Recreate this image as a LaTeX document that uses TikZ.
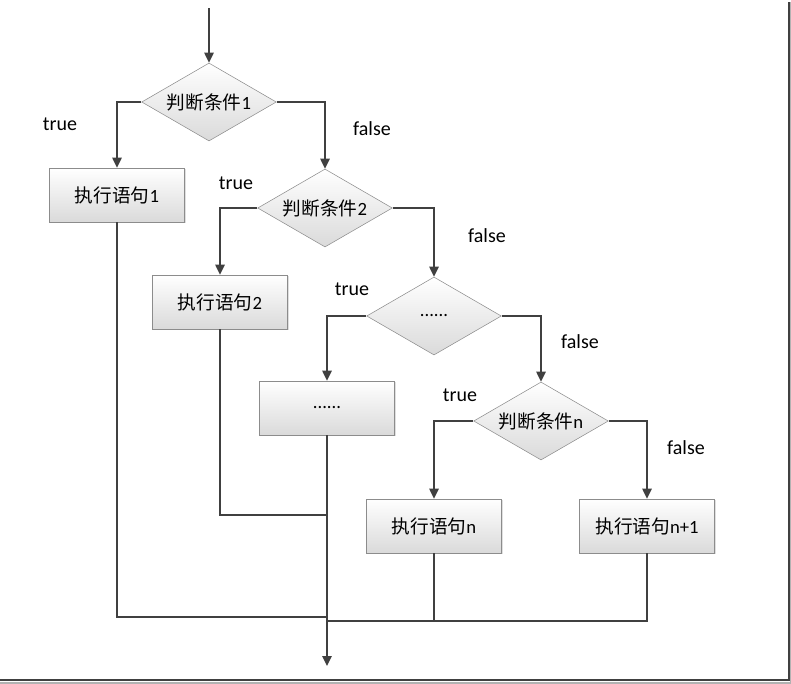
\documentclass[tikz,border=0pt]{standalone}
\usepackage{fontspec}
\setmainfont{Carlito}
\newfontfamily\cjk{Noto Sans CJK SC}
\usetikzlibrary{arrows.meta,shapes.geometric,shadows}
\definecolor{fcline}{HTML}{404040}
\definecolor{fcedge}{HTML}{8C8C8C}
\definecolor{fcfill}{HTML}{DADADA}

\begin{document}
\begin{tikzpicture}[x=0.75pt,y=-0.75pt,
  stmt/.style={draw=fcedge,thin,top color=white,bottom color=fcfill,
    minimum width=101pt,minimum height=40.5pt,inner sep=0pt,
    font=\fontsize{14}{16}\selectfont,
    drop shadow={opacity=0.25,shadow xshift=1pt,shadow yshift=-1pt}},
  cond/.style={diamond,aspect=1.7,draw=fcedge,thin,top color=white,bottom color=fcfill,
    minimum width=101pt,minimum height=58.5pt,inner sep=0pt,
    font=\fontsize{14}{16}\selectfont},
  lab/.style={font=\fontsize{15}{18}\selectfont},
  ln/.style={line width=1.1pt,fcline},
  arr/.style={ln,-{Triangle[length=7.5pt,width=7pt]}}]
  \useasboundingbox (0,0) rectangle (791,683);
  % decisions and statements
  \node[cond] (d1) at (209,102) {{\cjk 判断条件}1};
  \node[stmt] (b1) at (117,195) {{\cjk 执行语句}1};
  \node[cond] (d2) at (325,208) {{\cjk 判断条件}2};
  \node[stmt] (b2) at (220,302) {{\cjk 执行语句}2};
  \node[cond] (d3) at (434,316) {......};
  \node[stmt] (b3) at (327,408) {......};
  \node[cond] (d4) at (541,421) {{\cjk 判断条件}n};
  \node[stmt] (b4) at (434,526) {{\cjk 执行语句}n};
  \node[stmt] (b5) at (647,526) {{\cjk 执行语句}n+1};
  % branch labels
  \node[lab] (t1) at (60,124) {true};
  \node[lab] (f1) at (372,129) {false};
  \node[lab] (t2) at (236,183) {true};
  \node[lab] (f2) at (487,236) {false};
  \node[lab] (t3) at (352,289) {true};
  \node[lab] (f3) at (580,342) {false};
  \node[lab] (t4) at (460,395) {true};
  \node[lab] (f4) at (686,448) {false};
  % entry, joins, exit
  \coordinate (in) at (209,8);
  \coordinate (j1) at (327,617);
  \coordinate (j2) at (327,515);
  \coordinate (j3) at (327,621);
  \coordinate (out) at (327,666);
  \draw[arr] (in) -- (d1.north);
  \draw[arr] (d1.west) -| (b1.north);
  \draw[arr] (d1.east) -| (d2.north);
  \draw[arr] (d2.west) -| (b2.north);
  \draw[arr] (d2.east) -| (d3.north);
  \draw[arr] (d3.west) -| (b3.north);
  \draw[arr] (d3.east) -| (d4.north);
  \draw[arr] (d4.west) -| (b4.north);
  \draw[arr] (d4.east) -| (b5.north);
  \draw[ln] (b1.south) |- (j1);
  \draw[ln] (b2.south) |- (j2);
  \draw[ln] (b4.south) |- (j3);
  \draw[ln] (b5.south) |- (j3);
  \draw[arr] (b3.south) -- (out);
  % frame shadow
  \draw[gray!60,line width=1.2pt] (791,2) -- (791,683) -- (0,683);
  \draw[fcline,line width=1.3pt] (789,2) -- (789,680) -- (0,680);
\end{tikzpicture}
\end{document}
